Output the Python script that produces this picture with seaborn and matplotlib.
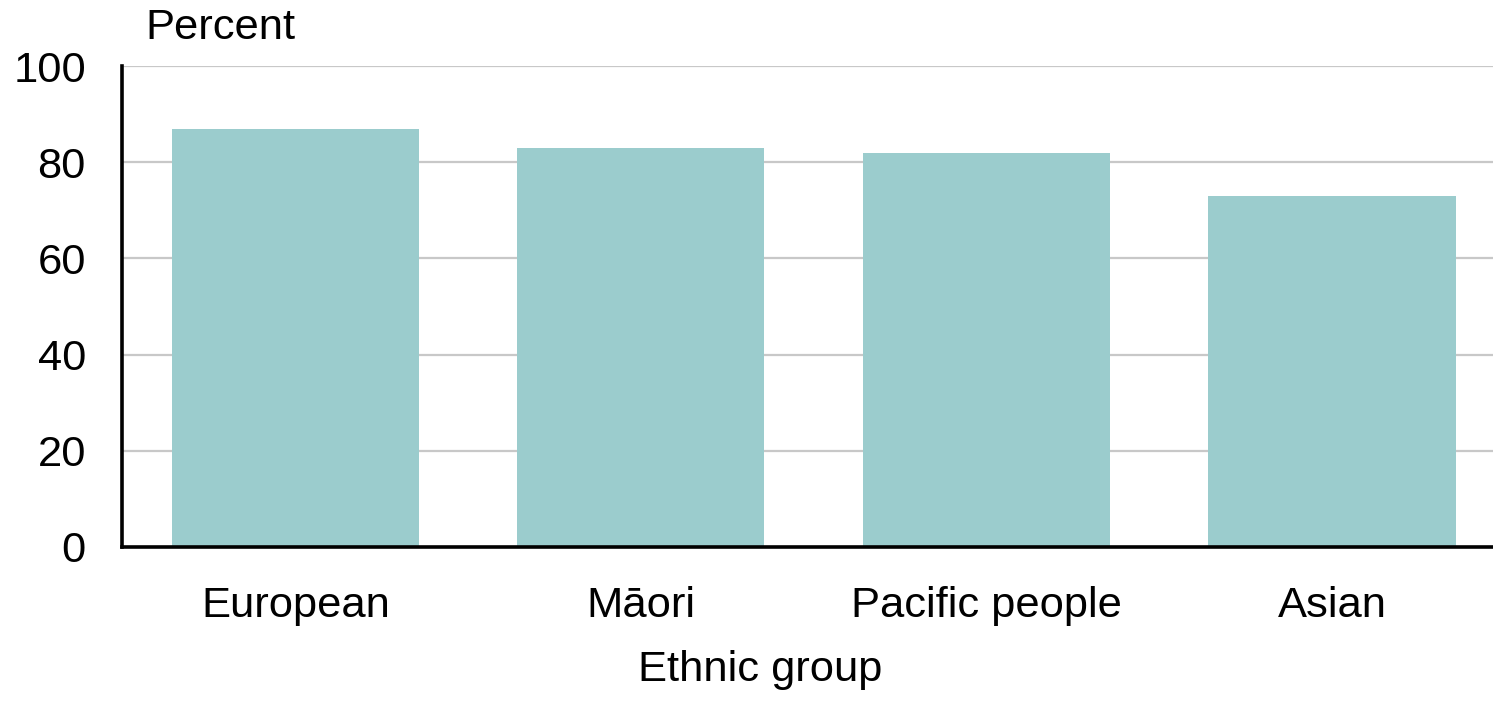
import matplotlib
matplotlib.use("Agg")
import matplotlib.pyplot as plt
import seaborn as sns
import pandas as pd

categories = ["European", "Māori", "Pacific people", "Asian"]
values = [87, 83, 82, 73]
yticks = [0, 20, 40, 60, 80, 100]

sns.set_theme(style="white")
plt.rcParams['font.family'] = ['Liberation Sans', 'DejaVu Sans']

df = pd.DataFrame({"group": categories, "pct": values})

fig = plt.figure(figsize=(14.93, 7.01), dpi=100)
ax = fig.add_axes([122/1493, 1-547/701, 1-122/1493, (547-66)/701])

sns.barplot(data=df, x="group", y="pct", color="#9BCCCD", saturation=1,
            width=0.715, ax=ax, zorder=2, linewidth=0)

ax.set_ylim(0, 100)
ax.set_xlim(-0.502, 3.466)
ax.set_yticks(yticks)
ax.set_yticklabels([str(t) for t in yticks])
ax.yaxis.grid(True, color="#C8C8C8", linewidth=1.6, zorder=0)
ax.set_axisbelow(True)
ax.set_xlabel("")
ax.set_ylabel("")
for s in ["top", "right"]:
    ax.spines[s].set_visible(False)
for s in ["left", "bottom"]:
    ax.spines[s].set_color("black")
    ax.spines[s].set_linewidth(2.6)
    ax.spines[s].set_zorder(3)
fs = 31.3
ax.tick_params(axis="y", length=0, pad=26, labelsize=fs, colors="black")
ax.tick_params(axis="x", length=0, pad=28, labelsize=fs, colors="black")

fig.text(145/1493, 1-28/701, "Percent", fontsize=fs, ha="left", va="center", color="black")
fig.text(760/1493, 1-670/701, "Ethnic group", fontsize=fs, ha="center", va="center", color="black")

fig.savefig("out.png", dpi=100, facecolor="white")
